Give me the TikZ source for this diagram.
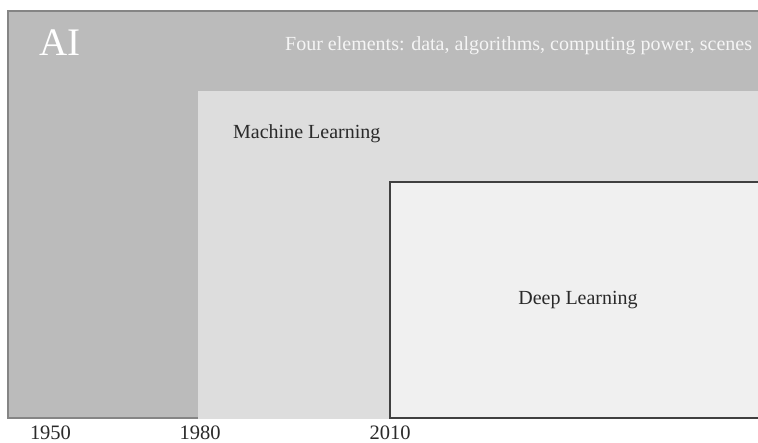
\documentclass[tikz,border=0pt]{standalone}
\usepackage{fontspec}
\setmainfont{Liberation Serif}
\definecolor{aigray}{HTML}{BBBBBB}
\definecolor{mlgray}{HTML}{DDDDDD}
\definecolor{dlgray}{HTML}{F0F0F0}
\definecolor{edgegray}{HTML}{858585}
\definecolor{dledge}{HTML}{404040}
\definecolor{txtgray}{HTML}{2A2A2A}
\tikzset{
  yearlabel/.style={anchor=base, font=\fontsize{20.5}{22}\selectfont, text=txtgray, inner sep=0pt},
  boxlabel/.style={anchor=west, font=\fontsize{20}{22}\selectfont, text=txtgray, inner sep=0pt}
}
\begin{document}
\begin{tikzpicture}[x=1pt,y=-1pt]
\useasboundingbox (0,0) rectangle (758,442);
\fill[white] (0,0) rectangle (758,442);
% AI region
\fill[aigray] (7,10) rectangle (758,419);
\draw[edgegray, line width=2pt] (758,11) -- (8,11) -- (8,418) -- (198,418);
% ML region
\fill[mlgray] (198,91) rectangle (758,419);
% DL region
\fill[dlgray] (389,181) rectangle (758,419);
\draw[dledge, line width=2pt] (758,182) -- (390,182) -- (390,418) -- (758,418);
\node[inner sep=0pt, anchor=west, text=white, font=\fontsize{39}{42}\selectfont] (ai) at (39,43) {AI};
\node[inner sep=0pt, anchor=west, text=white!96!black, font=\fontsize{20}{22}\selectfont] (four) at (285,46) {Four elements: data, algorithms, computing power, scenes};
\node[boxlabel] (ml) at (233,134) {Machine Learning};
\node[boxlabel, anchor=center] (dl) at (578,300) {Deep Learning};
\node[yearlabel] (y1950) at (50.5,439) {1950};
\node[yearlabel] (y1980) at (200,439) {1980};
\node[yearlabel] (y2010) at (390,439) {2010};
\end{tikzpicture}
\end{document}
